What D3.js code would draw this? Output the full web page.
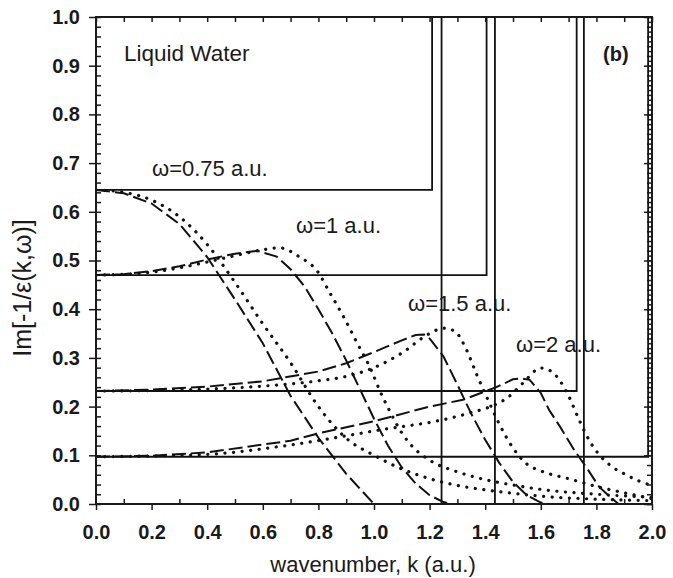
<!DOCTYPE html>
<html>
<head>
<meta charset="utf-8">
<script src="https://cdn.jsdelivr.net/npm/d3@7"></script>
<style>
  body { margin: 0; background: #fff; }
  svg { display: block; }
  .tick text { font-family: "Liberation Sans", Arial, sans-serif; font-weight: bold; font-size: 20px; fill: #1a1a1a; }
  .tick line { stroke: #1a1a1a; stroke-width: 1.5; }
  .domain { display: none; }
</style>
</head>
<body>
<svg id="chart" width="673" height="578"></svg>
<script>
// omega labels
const omegas = ["0.75", "1", "1.5", "2"];

// dashed curves (k, Im[-1/eps])
const dashK = [
  [0, 0.1, 0.2, 0.3, 0.4, 0.5, 0.6, 0.7, 0.8, 0.9, 1.0],
  [0, 0.1, 0.2, 0.3, 0.4, 0.5, 0.58, 0.65, 0.7, 0.75, 0.8, 0.85, 0.9, 0.95, 1.0, 1.05, 1.1, 1.15, 1.2, 1.25, 1.28],
  [0, 0.2, 0.4, 0.6, 0.8, 0.9, 1.0, 1.1, 1.15, 1.18, 1.2, 1.25, 1.3, 1.35, 1.4, 1.45, 1.5, 1.55, 1.6, 1.62],
  [0, 0.2, 0.4, 0.6, 0.7, 0.8, 1.0, 1.2, 1.32, 1.44, 1.5, 1.53, 1.56, 1.6, 1.63, 1.67, 1.72, 1.77, 1.81, 1.85, 1.88]
];
const dashV = [
  [0.645, 0.638, 0.617, 0.575, 0.507, 0.42, 0.33, 0.222, 0.136, 0.062, 0.0],
  [0.47, 0.472, 0.478, 0.488, 0.502, 0.514, 0.52, 0.508, 0.482, 0.447, 0.40, 0.35, 0.295, 0.235, 0.175, 0.12, 0.075, 0.042, 0.018, 0.004, 0.0],
  [0.232, 0.235, 0.241, 0.252, 0.272, 0.289, 0.312, 0.336, 0.347, 0.348, 0.34, 0.303, 0.245, 0.185, 0.132, 0.085, 0.045, 0.018, 0.003, 0.0],
  [0.097, 0.099, 0.106, 0.122, 0.13, 0.145, 0.17, 0.2, 0.214, 0.24, 0.256, 0.258, 0.255, 0.228, 0.193, 0.158, 0.111, 0.07, 0.035, 0.014, 0.0]
];

// dotted curves
const dotK = [
  [0, 0.1, 0.2, 0.3, 0.4, 0.5, 0.6, 0.7, 0.8, 0.9, 1.0, 1.1, 1.2, 1.3, 1.4, 1.5, 1.6, 1.8, 2.0],
  [0, 0.2, 0.3, 0.4, 0.5, 0.6, 0.66, 0.73, 0.8, 0.84, 0.89, 0.94, 0.99, 1.02, 1.06, 1.1, 1.14, 1.2, 1.3, 1.4, 1.5, 1.6, 1.8, 2.0],
  [0, 0.2, 0.4, 0.6, 0.8, 0.9, 1.0, 1.1, 1.2, 1.25, 1.29, 1.33, 1.37, 1.41, 1.45, 1.5, 1.55, 1.6, 1.7, 1.8, 1.9, 2.0],
  [0, 0.4, 0.66, 0.9, 1.02, 1.24, 1.345, 1.44, 1.48, 1.535, 1.6, 1.63, 1.66, 1.7, 1.74, 1.78, 1.82, 1.86, 1.9, 1.95, 2.0]
];
const dotV = [
  [0.645, 0.640, 0.624, 0.590, 0.533, 0.455, 0.37, 0.29, 0.20, 0.135, 0.10, 0.072, 0.052, 0.038, 0.029, 0.022, 0.016, 0.010, 0.007],
  [0.47, 0.476, 0.485, 0.497, 0.51, 0.522, 0.526, 0.508, 0.475, 0.435, 0.385, 0.33, 0.275, 0.234, 0.187, 0.146, 0.117, 0.09, 0.066, 0.05, 0.039, 0.03, 0.02, 0.014],
  [0.232, 0.233, 0.236, 0.242, 0.253, 0.262, 0.28, 0.31, 0.35, 0.361, 0.355, 0.32, 0.265, 0.214, 0.165, 0.115, 0.082, 0.068, 0.052, 0.036, 0.023, 0.011],
  [0.097, 0.102, 0.118, 0.14, 0.152, 0.172, 0.187, 0.205, 0.218, 0.248, 0.279, 0.275, 0.26, 0.222, 0.17, 0.125, 0.095, 0.075, 0.062, 0.048, 0.038]
];

// solid step curves: flat level, then vertical spike between kUp and kDown
const solidLevel = [0.645, 0.47, 0.232, 0.097];
const solidKUp = [1.209, 1.405, 1.729, 1.986];
const solidKDown = [1.243, 1.435, 1.755, 2.03];

const xMajor = d3.range(0, 2.001, 0.2);
const yMajor = d3.range(0, 1.001, 0.1);

const svg = d3.select("#chart");
const margin = {left: 96, top: 17, right: 21, bottom: 74};
const width = 673 - margin.left - margin.right;
const height = 578 - margin.top - margin.bottom;

const x = d3.scaleLinear().domain([0, 2]).range([0, width]);
const y = d3.scaleLinear().domain([0, 1]).range([height, 0]);

const g = svg.append("g").attr("transform", `translate(${margin.left},${margin.top})`);

g.append("defs").append("clipPath").attr("id", "clip")
  .append("rect").attr("width", width).attr("height", height);

const line = d3.line().x(d => x(d[0])).y(d => y(d[1]));
const plot = g.append("g").attr("clip-path", "url(#clip)");

// solid
solidLevel.forEach((h, i) => {
  const pts = [[0, h], [solidKUp[i], h], [solidKUp[i], 1.5], [solidKDown[i], 1.5], [solidKDown[i], 0], [2.1, 0]];
  plot.append("path").attr("d", line(pts))
    .attr("fill", "none").attr("stroke", "#111").attr("stroke-width", 1.8);
});

// dashed
dashK.forEach((ks, i) => {
  plot.append("path").attr("d", line(d3.zip(ks, dashV[i])))
    .attr("fill", "none").attr("stroke", "#111").attr("stroke-width", 2)
    .attr("stroke-dasharray", "14,5");
});

// dotted
const curve = d3.line().x(d => x(d[0])).y(d => y(d[1])).curve(d3.curveMonotoneX);
dotK.forEach((ks, i) => {
  plot.append("path").attr("d", curve(d3.zip(ks, dotV[i])))
    .attr("fill", "none").attr("stroke", "#111").attr("stroke-width", 3.2)
    .attr("stroke-linecap", "round").attr("stroke-dasharray", "0.1,8.5");
});

// axes
const fmt = d3.format(".1f");
g.append("g").attr("transform", `translate(0,${height})`)
  .call(d3.axisBottom(x).tickValues(xMajor).tickSize(6).tickPadding(15).tickFormat(fmt));
g.append("g").attr("transform", `translate(0,${height})`)
  .call(d3.axisBottom(x).tickValues(d3.range(0.1, 2, 0.2)).tickSize(-5).tickFormat(""));
g.append("g")
  .call(d3.axisTop(x).tickValues(d3.range(0, 2.001, 0.1)).tickSize(-5).tickFormat(""));
g.append("g")
  .call(d3.axisLeft(y).tickValues(yMajor).tickSize(7).tickPadding(9).tickFormat(fmt));
g.append("g")
  .call(d3.axisLeft(y).tickValues(d3.range(0, 1.001, 0.02)).tickSize(-5).tickFormat(""));
g.append("g").attr("transform", `translate(${width},0)`)
  .call(d3.axisRight(y).tickValues(d3.range(0, 1.001, 0.02)).tickSize(-5).tickFormat(""));
g.append("g").attr("transform", `translate(${width},0)`)
  .call(d3.axisRight(y).tickValues(d3.range(0.11, 1.0, 0.02)).tickSize(-4).tickFormat(""));
g.append("g").attr("transform", `translate(${width},0)`)
  .call(d3.axisRight(y).tickValues(yMajor).tickSize(-8).tickFormat(""));

g.append("rect").attr("width", width).attr("height", height)
  .attr("fill", "none").attr("stroke", "#1a1a1a").attr("stroke-width", 2);

// texts
const font = '"Liberation Sans", Arial, sans-serif';
const label = (tx, ty, s, opts = {}) => svg.append("text")
  .attr("x", tx).attr("y", ty).text(s)
  .attr("font-family", font).attr("font-size", opts.size || 21)
  .attr("font-weight", opts.weight || "normal").attr("fill", "#1a1a1a")
  .attr("text-anchor", opts.anchor || "start");

label(124, 61, "Liquid Water", {size: 22.5});
label(603, 61, "(b)", {size: 20, weight: "bold"});
const omegaPos = [[152, 176], [296, 233], [408, 311], [516, 352]];
omegas.forEach((w, i) => label(omegaPos[i][0], omegaPos[i][1], `ω=${w} a.u.`, {size: 22}));

label(373, 572, "wavenumber, k (a.u.)", {size: 22, anchor: "middle"});
svg.append("text")
  .attr("transform", "translate(31,288) rotate(-90)")
  .attr("text-anchor", "middle")
  .attr("font-family", font).attr("font-size", 25).attr("fill", "#1a1a1a")
  .text("Im[-1/ε(k,ω)]");
</script>
</body>
</html>
